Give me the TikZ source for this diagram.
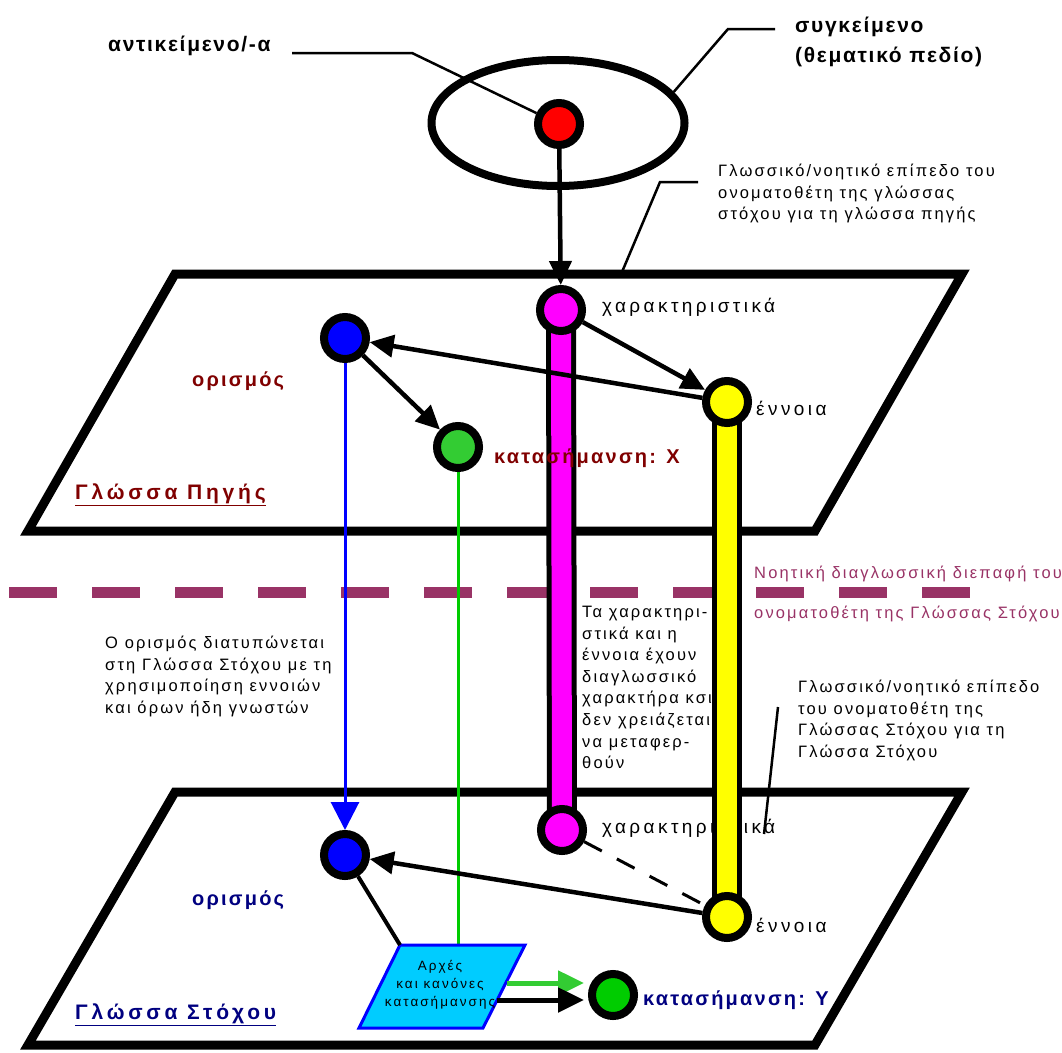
\documentclass[tikz,border=0pt]{standalone}
\usepackage{fontspec}
\setmainfont{Liberation Sans}
\newfontfamily\wsmall[LetterSpace=13]{Liberation Sans}
\newfontfamily\wnode[LetterSpace=18]{Liberation Sans}
\newfontfamily\wbox[LetterSpace=15]{Liberation Sans}
\newfontfamily\wbig[LetterSpace=8]{Liberation Sans}
\newfontfamily\wmid[LetterSpace=11]{Liberation Sans}
\newfontfamily\wtitle[LetterSpace=18]{Liberation Sans}
\usetikzlibrary{arrows.meta,shapes.geometric}
\definecolor{dred}{HTML}{800000}
\definecolor{navy}{HTML}{000080}
\definecolor{plum}{HTML}{993366}
\definecolor{mag}{HTML}{FF00FF}
\definecolor{yel}{HTML}{FFFF00}
\definecolor{grnA}{HTML}{33CC33}
\definecolor{grnB}{HTML}{00CC00}
\definecolor{cyanbox}{HTML}{00CCFF}
\pgfdeclarelayer{back}
\pgfdeclarelayer{bars}
\pgfsetlayers{back,bars,main}
\begin{document}
\begin{tikzpicture}[x=1pt,y=-1pt,
  dot/.style={circle,draw=black,line width=8pt,minimum size=42pt,inner sep=0pt},
  plane/.style={draw=black,line width=9pt,fill=white,line join=miter},
  ar/.style={line width=4.5pt,-{Triangle[length=24pt,width=22pt]}},
  leader/.style={line width=2.5pt},
  bigb/.style={font=\wbig\bfseries\fontsize{21}{30}\selectfont,anchor=west,inner sep=0pt,align=left},
  midb/.style={font=\wmid\bfseries\fontsize{20}{22}\selectfont,anchor=west,inner sep=0pt},
  titleb/.style={font=\wtitle\bfseries\fontsize{21}{24}\selectfont,anchor=west,inner sep=0pt},
  nlab/.style={font=\wnode\fontsize{19}{22}\selectfont,anchor=west,inner sep=0pt},
  small/.style={font=\wsmall\fontsize{16.5}{21.6}\selectfont,anchor=north west,inner sep=0pt,align=left},
  ]
\useasboundingbox (0,0) rectangle (1062,1052);

% planes
\begin{pgfonlayer}{back}
\draw[plane] (175,274) -- (962,274) -- (815,531) -- (28,531) -- cycle;
\draw[plane] (175,792) -- (962,792) -- (815,1045) -- (28,1045) -- cycle;
\draw[plum,line width=11pt,dash pattern=on 48pt off 35pt] (9,592) -- (970,592);
\end{pgfonlayer}

% ellipse (context)
\node[ellipse,draw=black,line width=8pt,minimum width=253pt,minimum height=126pt,inner sep=0pt] (ell) at (558,123) {};

% nodes
\node[dot,fill=red] (red) at (559,124) {};
\node[dot,fill=mag] (magt) at (561,310) {};
\node[dot,fill=blue] (blut) at (345,338) {};
\node[dot,fill=yel] (yelt) at (727,402) {};
\node[dot,fill=grnA] (grnt) at (458,447) {};
\node[dot,fill=mag] (magb) at (562,830) {};
\node[dot,fill=blue] (blub) at (345,855) {};
\node[dot,fill=yel] (yelb) at (727,917) {};
\node[dot,fill=grnB] (grnb) at (613,995) {};

% bottom label partially hidden by yellow bar
\begin{pgfonlayer}{back}
\node[nlab] (charb) at (602,828) {χαρακτηριστικά};
\end{pgfonlayer}

% bars
\begin{pgfonlayer}{bars}
\draw[line width=30pt,black] (magt.center) -- (magb.center);
\draw[line width=20pt,mag] (magt.center) -- (magb.center);
\draw[line width=30pt,black] (yelt.center) -- (yelb.center);
\draw[line width=20pt,yel] (yelt.center) -- (yelb.center);
\draw[blue,line width=3pt,-{Triangle[length=28pt,width=28pt]}] (blut) -- (blub);
\end{pgfonlayer}

% box
\coordinate (btl) at (400,945);
\coordinate (btr) at (525,945);
\coordinate (bbr) at (483,1028);
\coordinate (bbl) at (359,1028);
\coordinate (bre1) at (507,983);
\coordinate (bre2) at (497,1000);
\coordinate (gend) at (458,945);
\begin{pgfonlayer}{bars}
\draw[grnB,line width=3pt] (grnt) -- (gend);
\end{pgfonlayer}
\draw[blue,line width=3pt,fill=cyanbox,line join=miter] (btl) -- (btr) -- (bbr) -- (bbl) -- cycle;
\node[font=\wbox\fontsize{13.5}{18}\selectfont,align=center,inner sep=0pt] (box) at (440,985) {Αρχές\\και κανόνες\\κατασήμανσης};

% connectors
\draw[ar] (red) -- (magt);
\draw[ar] (magt) -- (yelt);
\draw[ar] (yelt) -- (blut);
\draw[ar] (blut) -- (grnt);
\draw[ar] (yelb) -- (blub);
\draw[line width=3pt,dash pattern=on 20pt off 17pt] (magb) -- (yelb);
\draw[line width=4pt] (btl) -- (blub);
\draw[grnA,line width=5pt,-{Triangle[length=26pt,width=24pt]}] (bre1) -- ([xshift=-4pt,yshift=12pt]grnb.west);
\draw[black,line width=5pt,-{Triangle[length=26pt,width=24pt]}] (bre2) -- ([xshift=-4pt,yshift=-5pt]grnb.west);

% labels top
\node[bigb] (obj) at (108,46) {αντικείμενο/-α};
\coordinate (k1) at (292,53);
\coordinate (k2) at (412,53);
\draw[leader] (k1) -- (k2) -- (red);
\node[bigb] (ctx) at (795,42) {συγκείμενο\\(θεματικό πεδίο)};
\coordinate (k3) at (775,29);
\coordinate (k4) at (728,29);
\draw[leader] (k3) -- (k4) -- (ell.15);

\node[small] (pl1) at (718,164) {Γλωσσικό/νοητικό επίπεδο του\\ονοματοθέτη της γλώσσας\\στόχου για τη γλώσσα πηγής};
\coordinate (k5) at (698,182);
\coordinate (k6) at (660,182);
\coordinate (k7) at (622,272);
\draw[leader] (k5) -- (k6) -- (k7);

\node[nlab] (chart) at (602,307) {χαρακτηριστικά};
\node[nlab] (ennt) at (756,408) {έννοια};
\node[midb,dred] (orit) at (192,381) {ορισμός};
\node[midb,dred] (katx) at (494,458) {κατασήμανση: Χ};
\node[titleb,dred] (srcl) at (75,495) {\underline{Γλώσσα Πηγής}};

% middle
\node[small,plum,font=\wsmall\fontsize{16.5}{40}\selectfont] (iface) at (754,566) {Νοητική διαγλωσσική διεπαφή του\\ονοματοθέτη της Γλώσσας Στόχου};
\node[small] (txtm) at (582,606) {Τα χαρακτηρι-\\στικά και η\\έννοια έχουν\\διαγλωσσικό\\χαρακτήρα κσι\\δεν χρειάζεται\\να μεταφερ-\\θούν};
\node[small] (txtl) at (105,636) {Ο ορισμός διατυπώνεται\\στη Γλώσσα Στόχου με τη\\χρησιμοποίηση εννοιών\\και όρων ήδη γνωστών};
\node[small] (pl2) at (798,680) {Γλωσσικό/νοητικό επίπεδο\\του ονοματοθέτη της\\Γλώσσας Στόχου για τη\\Γλώσσα Στόχου};
\coordinate (k8) at (778,707);
\coordinate (k9) at (764,834);
\draw[leader] (k8) -- (k9);

% bottom labels
\node[nlab] (ennb) at (756,925) {έννοια};
\node[midb,navy] (orib) at (192,900) {ορισμός};
\node[midb,navy] (katy) at (643,1000) {κατασήμανση: Υ};
\node[titleb,navy] (tgtl) at (75,1015) {\underline{Γλώσσα Στόχου}};
\end{tikzpicture}
\end{document}
